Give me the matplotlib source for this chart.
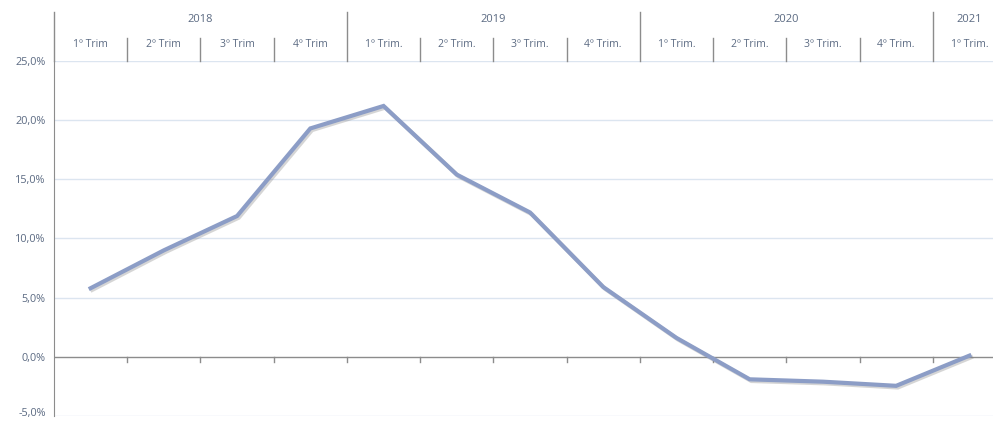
import numpy as np
import matplotlib
matplotlib.use("Agg")
import matplotlib.pyplot as plt
import matplotlib.patheffects as pe
import matplotlib.transforms as mtransforms
from matplotlib.ticker import FuncFormatter

# data
years = ["2018", "2019", "2020", "2021"]
quarters_per_year = [4, 4, 4, 1]
quarter_labels = ["1º Trim", "2º Trim", "3º Trim", "4º Trim",
                  "1º Trim.", "2º Trim.", "3º Trim.", "4º Trim.",
                  "1º Trim.", "2º Trim.", "3º Trim.", "4º Trim.",
                  "1º Trim."]
values = [5.8, 9.0, 11.9, 19.3, 21.2, 15.4, 12.2, 5.9, 1.6, -1.9, -2.1, -2.45, 0.1]

plt.rcParams['font.family'] = ['Open Sans', 'DejaVu Sans']

W, H = 993, 421
fig = plt.figure(figsize=(W / 100, H / 100), dpi=100)
# plot area: x 54..1006 px, y 61..416 px (from top)
ax = fig.add_axes([54 / W, (H - 416) / H, (1006 - 54) / W, 355 / H])

x = np.arange(len(values))
line_col = "#8c9dc6"
grid_col = "#dce5f0"
axis_col = "#8c8c8c"
text_col = "#5b6a82"

ax.set_xlim(-0.5, len(values) - 0.5)
ax.set_ylim(-5, 25)
ax.set_yticks(np.arange(-5, 26, 5))
ax.yaxis.set_major_formatter(FuncFormatter(lambda v, p: ("%.1f%%" % v).replace(".", ",")))
ax.tick_params(axis="y", length=0, labelsize=7.8, labelcolor=text_col, pad=6)
ax.set_xticks([])
# lowest label sits at the bottom edge; nudge it up a little so it stays visible
fig.canvas.draw()
lowest = ax.get_yticklabels()[0]
lowest.set_transform(lowest.get_transform() + mtransforms.ScaledTranslation(0, 4 / 100, fig.dpi_scale_trans))

for yv in np.arange(-5, 26, 5):
    if yv != 0:
        ax.axhline(yv, color=grid_col, lw=1, zorder=0)
ax.axhline(0, color=axis_col, lw=1, zorder=1)
for s in ["top", "right", "bottom"]:
    ax.spines[s].set_visible(False)
ax.spines["left"].set_color(axis_col)

# small ticks on the zero line
for b in np.arange(0.5, len(values) - 1, 1):
    ax.plot([b, b], [0, -0.45], color=axis_col, lw=1, zorder=1)

ax.plot(x, values, color=line_col, lw=3, solid_joinstyle="miter",
        path_effects=[pe.SimpleLineShadow(offset=(1.2, -1.2), shadow_color="#777777", alpha=0.3),
                      pe.Normal()], zorder=3)

# header with years and quarters
trans = mtransforms.blended_transform_factory(ax.transData, ax.transAxes)
px = 1 / 355.0
top_y = 1 + (61 - 12) * px
mid_y = 1 + (61 - 38) * px
start = 0
for yr, n in zip(years, quarters_per_year):
    left = start - 0.5
    ax.plot([left, left], [1, top_y], color=axis_col, lw=1, transform=trans, clip_on=False)
    ax.text(start + (n - 1) / 2, 1 + (61 - 20) * px, yr, transform=trans, ha="center",
            va="center", fontsize=8, color=text_col)
    for k in range(1, n):
        b = start + k - 0.5
        ax.plot([b, b], [1, mid_y], color=axis_col, lw=1, transform=trans, clip_on=False)
    start += n
for i, lab in enumerate(quarter_labels):
    ax.text(i, 1 + (61 - 45) * px, lab, transform=trans, ha="center", va="center",
            fontsize=7.5, color=text_col)

fig.savefig("out.png", dpi=100)
